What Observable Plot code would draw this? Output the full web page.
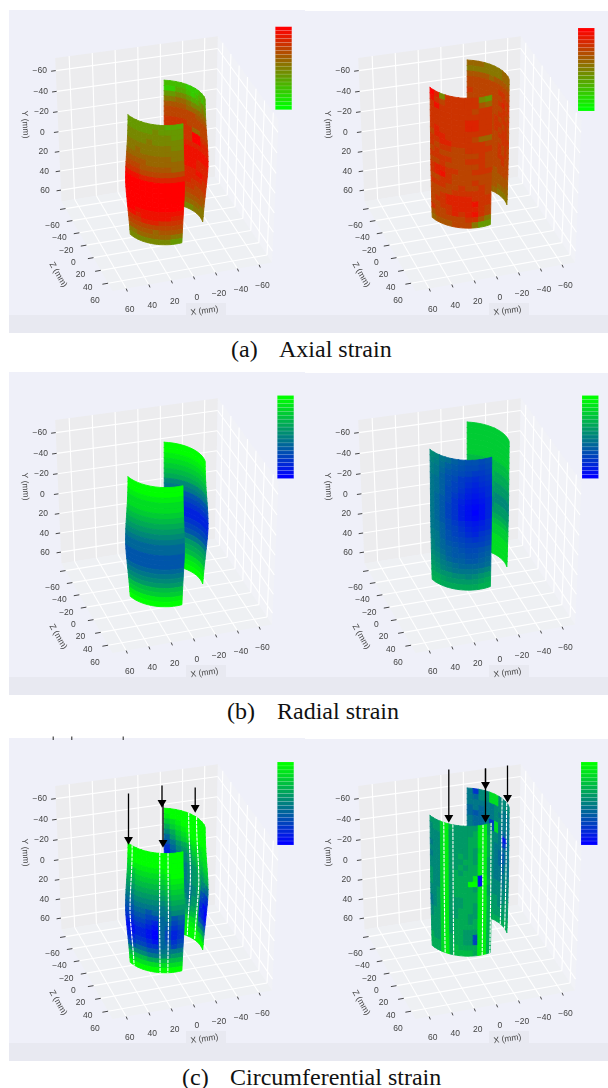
<!DOCTYPE html>
<html><head><meta charset="utf-8">
<script src="https://cdn.jsdelivr.net/npm/d3@7"></script>
<script src="https://cdn.jsdelivr.net/npm/@observablehq/plot@0.6"></script>
<style>
html,body{margin:0;padding:0;background:#fff;width:608px;height:1088px;overflow:hidden}
#page{position:relative;width:608px;height:1088px}
.panel{position:absolute}
.panel svg{display:block;filter:blur(0.4px)}
.cap{position:absolute;font-family:"Liberation Serif",serif;font-size:24px;color:#111;white-space:pre;line-height:26px}
</style></head><body><div id="page"></div>
<script>
// Axis ticks (mm)
const tickValues = [-60,-40,-20,0,20,40,60];
const tickLabels = ["−60","−40","−20","0","20","40","60"];
// Colour-bar levels, top of bar first for a green-to-high ramp
const barLevels = [0,0.7,1.5,2.2,3,3.7,4.5,5.2,6,6.7,7.5,8.2,9,9.7,10.5,11.2,12,12.7,13.5,14.2,15];

// Specimen shape (mm and degrees): radius per row edge, axial span, angular span
const radiusBefore = [35,35,35.2,35.4,35.7,36,36.4,36.8,37.2,37.6,37.9,38.1,38.3,38.3,38.1,37.8,37.4,37,36.6,36.2,35.8,35.4,35.1,34.8,34.5];
const radiusAfter  = [35.5,35.5,35.5,35.5,35.6,35.6,35.6,35.7,35.7,35.7,35.8,35.8,35.8,35.8,35.8,35.8,35.7,35.7,35.7,35.6,35.6,35.5,35.5,35.4,35.3];
const spanBeforeFront = {top:-58, bottom:62}, spanBeforeBack = {top:-60, bottom:64};
const spanAfterFront  = {top:-84, bottom:44}, spanAfterBack  = {top:-79, bottom:46};
const frontBefore = [75,-8], backBefore = [-160,-80];
const frontAfter  = [75,-16], backAfter  = [-160,-80];
const axisOffsetX = 2;

// Strain levels per cell, one digit per cell, read row by row from the top of each strip
const axialBeforeFront = ["6666666555","6666676666","7777777766","7777877777","8888888877","8898888888","9999999988","aaaa999999","bbbaaaaa99","cccbbbbbbb","eeeddddddd","ffffffffff","ffffffffff","ffffffffff","ffffffffff","ffffffffff","ffffffffff","ffeeeeeeee","eedeeeeedd","cccdddcccc","bbbbbbbbbb","aaaaa9aaaa","8899999988","7777777766"];
const axialBeforeBack = ["4444333445","3355434545","6677655676","8899877787","aaaa999999","bbbbbbaaaa","bbbbbbbbbb","ccccbbbbbb","ccccc99bbb","cccccffccc","cccccffddd","dddddddddd","eeeeeeeeee","eeeeeeeeee","eeeeeedddd","eeeeeedddd","ddddddeedd","ddddddddcc","dddddccccc","ccccccbbbb","bbbbbbbbaa","aaaaaaaaa9","9999999988","7777778888"];
const axialAfterFront = ["fd7ccccc76","ecbccccca9","cecccccbcc","cccccccccc","ccccccddcc","ccccccddcc","cdcccccccc","bddccccb99","ccddcccccb","cbccbbcccc","bcbbbbbbcb","ccccbbcccb","bbcbbbbbcb","cddccbbccc","cdecbbbbbb","bbccbbbcbb","cccbbcbbcb","bbbbcccccb","bbcddddccc","bccddddecc","bbccddddcb","cbbcdcdecb","abbbbbcca8","9aaabbb866"];
const axialAfterBack = ["9998888999","8888888999","aaaa9aaaaa","bbbbbbbbbb","bbbbbbccbb","cbbbbbbccc","bbbbbbcdbc","bbbbbbbccb","bcbbbbccbc","bcbbbcbccb","bcbbbccbcb","bcbbbcbccb","bbbbbbcccc","cbbbbbbccb","bbbbbbcbcb","bbbbbbcbcb","bbbbbbccbb","bbbbbbbcbb","bbbbbbbbbb","bbbbbabbba","aaaaaaaaaa","aaaaaaaaa9","999aaa9999","8888998888"];

const radialBeforeFront = ["0","0","1","2","2","3","4","5","6","7","8","9","9","a","a","a","9","8","7","6","4","3","1","0"];
const radialBeforeBack = ["0","0","1","2","3","4","5","7","8","a","b","c","d","d","c","b","a","8","6","5","4","2","1","0"];
// Finer reading of this strip: digits run 0..z
const radialAfterFront = ["ghjkmnoopo","hikmnoppqp","ijlnopqrrq","ijmoprstsr","jkmoqrtuts","jkmpqsuvut","jkmprtvwvt","jlnpsuwxwu","jlnqsvxyxu","jlnqsvxzxu","jlnqsvxyxu","jlnprtvwvt","jkmpqsuvut","jkmoqrtusr","ijmopqrsrq","ijlnopqqqp","hjlmnoppon","hikmnnoonm","ghjlmmnnml","fgijkllllk","efhijjjjih","deffgghgfe","ccdeeeeedc","bbccccccbb"];
const radialAfterBack = ["33","33","33","33","33","33","44","44","45","55","56","66","67","77","76","66","55","44","33","33","22","22","22","22"];

const circBeforeFront = ["0000000000","0000000000","1000000000","2111111000","3322222100","4433333211","5544444322","6655555433","7766666544","8877777655","9988888766","aa99a98877","bbaabb98a9","ccbbcd99ba","ddccde9acb","eeddef9bdc","eeddef9bdc","ddccde9acb","ccbbcc99ba","aa99aa8888","7777887766","4444554444","2222222222","0000000000"];
const circBeforeBack = ["0000000000","1000000000","3210000000","5321000000","7532100000","9643211111","a865422211","c976532222","da87643322","da97653433","ca98764544","ca98765655","ba98765778","ba98765899","ba98875abc","aa98876bcd","a987866cee","9876765ddf","9876654cde","8765543abc","6543222789","4321111456","2100000123","0000000000"];
const circAfterFront = ["66621566666116","76621666665116","77721666655115","77721666655115","87721666656215","77721665656115","87721666556116","77721665655116","77721656555116","67721655551e06","67721655500e05","67721655556116","77621655555116","77621666555115","87621666556115","87621665556115","76621665566115","76621655565115","66621655555115","66621655666115","6662155566b115","5662155566b115","55521545555115","55521544445115"];
const circAfterBack = ["8c77227777","8977227777","8888877888","9898878888","9a98877888","8998c28888","8998c28998","8888778ed8","8888778ca8","8888788988","8888789a88","8888789a88","8888789978","8888788978","8888788877","7777788877","7777777877","7777777777","7777777766","6666667766","6666667666","6666666666","5555566655","5555555555"];

// Gauge lines (degrees around the specimen) and arrows on the circumferential panels
const gaugeBeforeFront = [66,24,13], gaugeBeforeBack = [-124,-109];
const gaugeAfterFront = [50,37,-3,-15], gaugeAfterBack = [-105,-92];
const arrowsBefore = [[128,65,113],[161.5,57,76],[162.5,75,116],[194.7,59,81]];
const arrowsAfter  = [[145.3,41,91],[182,40,58],[182,40,91],[204,37,71]];
const stubsBefore = [52.7,71.3,122.7];

// Camera calibration: box corners (mm) against where they fall in a panel
const boxCorners = [[72,72,-72],[72,-72,-72],[-72,-72,-72],[-72,72,-72],[72,72,72],[-72,72,72],[-72,-72,72]];
const boxPixels  = [[61.7,200],[56,57.3],[216,33.3],[214,179.5],[110,291.7],[273.3,258.3],[278.3,122]];

const GREEN="#00ff00", RED="#ff0000", BLUE="#0000ff";

function fitCamera(){
  const rows=[],rhs=[];
  boxCorners.forEach((c,i)=>{
    const [X,Y,Z]=c.map(v=>v/72), u=boxPixels[i][0]/100, v=boxPixels[i][1]/100;
    rows.push([X,Y,Z,1,0,0,0,0,-u*X,-u*Y,-u*Z]);rhs.push(u);
    rows.push([0,0,0,0,X,Y,Z,1,-v*X,-v*Y,-v*Z]);rhs.push(v);
  });
  const n=11,A=[];
  for(let i=0;i<n;i++){A.push(new Array(n+1).fill(0));
    for(let j=0;j<n;j++)rows.forEach(r=>A[i][j]+=r[i]*r[j]);
    rows.forEach((r,k)=>A[i][n]+=r[i]*rhs[k]);}
  for(let i=0;i<n;i++){let m=i;for(let k=i+1;k<n;k++)if(Math.abs(A[k][i])>Math.abs(A[m][i]))m=k;
    [A[i],A[m]]=[A[m],A[i]];
    for(let k=0;k<n;k++){if(k===i)continue;const f=A[k][i]/A[i][i];for(let j=i;j<=n;j++)A[k][j]-=f*A[i][j];}}
  const p=A.map((r,i)=>r[n]/r[i]);
  return (X,Y,Z)=>{X/=72;Y/=72;Z/=72;const w=p[8]*X+p[9]*Y+p[10]*Z+1;
    return {x:100*(p[0]*X+p[1]*Y+p[2]*Z+p[3])/w,y:100*(p[4]*X+p[5]*Y+p[6]*Z+p[7])/w};};
}
const proj=fitCamera();

function poly(id,corners,extra){return corners.map(c=>({...proj(...c),id,...extra}));}
function link(a,b){const p=proj(...a),q=proj(...b);return {x1:p.x,y1:p.y,x2:q.x,y2:q.y};}

function stripCells(grid,theta,shape,radius,prefix,radix){
  const pts=[],rows=grid.length,dy=(shape.bottom-shape.top)/rows;
  const at=(t,r)=>{const a=t*Math.PI/180,R=radius[r];return [axisOffsetX+R*Math.sin(a),shape.top+r*dy,R*Math.cos(a)];};
  grid.forEach((row,r)=>{const cols=row.length,subs=Math.ceil(12/cols)+1;
    for(let c=0;c<cols;c++){
      const t0=theta[0]+(theta[1]-theta[0])*c/cols,t1=theta[0]+(theta[1]-theta[0])*(c+1)/cols,ring=[];
      for(let s=0;s<=subs;s++)ring.push(at(t0+(t1-t0)*s/subs,r));
      for(let s=subs;s>=0;s--)ring.push(at(t0+(t1-t0)*s/subs,r+1));
      ring.push(ring[0]);
      const level=parseInt(row[c],radix)*15/(radix-1);
      ring.forEach(q=>pts.push({...proj(...q),id:prefix+"-"+r+"-"+c,level}));
    }});
  return pts;
}
function gaugeLines(angles,shape,radius,prefix){
  const pts=[];
  angles.forEach((t,i)=>{const a=t*Math.PI/180;
    radius.forEach((R,r)=>pts.push({...proj(axisOffsetX+R*Math.sin(a),shape.top+r*(shape.bottom-shape.top)/(radius.length-1),R*Math.cos(a)),id:prefix+i}));});
  return pts;
}

function panelChart(o){
  const B=72, W=305, H=334;
  const walls=[
    poly("back",[[B,B,-B],[B,-B,-B],[-B,-B,-B],[-B,B,-B]],{}),
    poly("right",[[-B,B,-B],[-B,-B,-B],[-B,-B,B],[-B,B,B]],{}),
    poly("floor",[[B,B,-B],[-B,B,-B],[-B,B,B],[B,B,B]],{})
  ];
  const grid=[];
  tickValues.forEach(t=>{
    grid.push(link([t,B,-B],[t,-B,-B]),link([B,t,-B],[-B,t,-B]));
    grid.push(link([-B,t,-B],[-B,t,B]),link([-B,B,t],[-B,-B,t]));
    grid.push(link([t,B,-B],[t,B,B]),link([B,B,t],[-B,B,t]));
  });
  const ticks=[];
  tickValues.forEach(t=>{
    ticks.push(link([B,t,-B],[B+4,t,-B]));
    ticks.push(link([B,B,t],[B+5,B,t]));
    ticks.push(link([t,B,B],[t,B+1,B+3]));
  });
  const labels=(fn)=>tickValues.map((t,i)=>({...proj(...fn(t)),label:tickLabels[i]}));
  const text={text:"label",fontSize:8.5,fontFamily:"Liberation Sans, sans-serif",fill:"#444"};
  const bar=(o.reverseBar?barLevels.slice().reverse():barLevels).map((level,i,a)=>({level,y1:o.bar[1]+i*83/a.length,y2:o.bar[1]+(i+1)*83/a.length,x1:o.bar[0],x2:o.bar[0]+16.5}));

  const back=stripCells(o.back,o.backTheta,o.backSpan,o.radius,"b",16);
  const front=stripCells(o.front,o.frontTheta,o.frontSpan,o.radius,"f",o.frontRadix||16);
  const cell={x:"x",y:"y",z:"id",fill:"level",stroke:"level",strokeWidth:0.9};
  const dash={x:"x",y:"y",z:"id",stroke:"#fff",strokeWidth:1.1,strokeDasharray:"2.4,1.7"};
  const marks=[
    Plot.rect([{x1:o.left,x2:W,y1:o.top,y2:333}],{x1:"x1",x2:"x2",y1:"y1",y2:"y2",fill:"#eff0f9"}),
    Plot.rect([{x1:o.left,x2:W,y1:315,y2:333}],{x1:"x1",x2:"x2",y1:"y1",y2:"y2",fill:"#e8e9f1"}),
    Plot.rect([{x1:186,x2:226,y1:303,y2:315}],{x1:"x1",x2:"x2",y1:"y1",y2:"y2",fill:"#e8e9f1"}),
    Plot.line(walls[0],{x:"x",y:"y",z:"id",fill:"#ececee",stroke:"none"}),
    Plot.line(walls[1],{x:"x",y:"y",z:"id",fill:"#f1f2f7",stroke:"none"}),
    Plot.line(walls[2],{x:"x",y:"y",z:"id",fill:"#eef0f3",stroke:"none"}),
    Plot.link(grid,{x1:"x1",y1:"y1",x2:"x2",y2:"y2",stroke:"#fff",strokeWidth:1.1}),
    Plot.link(ticks,{x1:"x1",y1:"y1",x2:"x2",y2:"y2",stroke:"#333",strokeWidth:0.9}),
    Plot.text(labels(t=>[B,t,-B]),{x:"x",y:"y",dx:-16,...text}),
    Plot.text(labels(t=>[B,B,t]),{x:"x",y:"y",dx:-13,dy:17,...text}),
    Plot.text(labels(t=>[t,B,B]),{x:"x",y:"y",dx:3.5,dy:21,...text}),
    Plot.text([{x:25,y:124,label:"Y (mm)"}],{x:"x",y:"y",rotate:87,...text}),
    Plot.text([{x:58,y:274,label:"Z (mm)"}],{x:"x",y:"y",rotate:60,...text}),
    Plot.text([{x:204,y:310,label:"X (mm)"}],{x:"x",y:"y",rotate:-8,...text}),
    Plot.rect(bar,{x1:"x1",x2:"x2",y1:"y1",y2:"y2",fill:"level",stroke:"#ffffff",strokeOpacity:0.18,strokeWidth:0.6}),
    Plot.line(back,cell)
  ];
  if(o.gaugeBack)marks.push(Plot.line(gaugeLines(o.gaugeBack,o.backSpan,o.radius,"gb"),dash));
  marks.push(Plot.line(front,cell));
  if(o.gaugeFront)marks.push(Plot.line(gaugeLines(o.gaugeFront,o.frontSpan,o.radius,"gf"),dash));
  if(o.arrows){
    const shaft=o.arrows.map(([x,y1,y2])=>({x,y1,y2}));
    marks.push(Plot.link(shaft,{x1:"x",x2:"x",y1:"y1",y2:"y2",stroke:"#000",strokeWidth:1.3}));
    marks.push(Plot.dot(shaft,{x:"x",y:d=>d.y2-2,symbol:"triangle",rotate:180,r:3.3,fill:"#000",stroke:"none"}));
  }
  if(o.stubs)marks.push(Plot.link(o.stubs.map(x=>({x})),{x1:"x",x2:"x",y1:()=>8,y2:()=>11.5,stroke:"#222",strokeWidth:1}));
  return Plot.plot({
    width:W,height:H,marginTop:0,marginRight:0,marginBottom:0,marginLeft:0,
    style:{background:"transparent"},
    x:{domain:[0,W],range:[0,W],axis:null},
    y:{domain:[0,H],range:[0,H],axis:null},
    color:{type:"linear",domain:[0,15],range:[GREEN,o.high],interpolate:d3.interpolateRgb},
    marks
  });
}

const before={radius:radiusBefore,frontSpan:spanBeforeFront,backSpan:spanBeforeBack,frontTheta:frontBefore,backTheta:backBefore,left:9,top:10};
const after ={radius:radiusAfter,frontSpan:spanAfterFront,backSpan:spanAfterBack,frontTheta:frontAfter,backTheta:backAfter,left:0,top:11};
const panels=[
 {x:0,y:0,...before,high:RED,reverseBar:true,bar:[275.3,26.7],front:axialBeforeFront,back:axialBeforeBack},
 {x:303,y:0,...after,high:RED,reverseBar:true,bar:[275,28],front:axialAfterFront,back:axialAfterBack},
 {x:0,y:362,...before,high:BLUE,bar:[277.3,33.5],front:radialBeforeFront,back:radialBeforeBack},
 {x:303,y:362,...after,high:BLUE,bar:[279,33.5],front:radialAfterFront,frontRadix:36,back:radialAfterBack},
 {x:0,y:728,...before,high:BLUE,bar:[277.3,34],front:circBeforeFront,back:circBeforeBack,gaugeFront:gaugeBeforeFront,gaugeBack:gaugeBeforeBack,arrows:arrowsBefore,stubs:stubsBefore},
 {x:303,y:728,...after,high:BLUE,bar:[278,34],front:circAfterFront,back:circAfterBack,gaugeFront:gaugeAfterFront,gaugeBack:gaugeAfterBack,arrows:arrowsAfter}
];
const page=document.getElementById("page");
panels.forEach(o=>{
  const d=document.createElement("div");d.className="panel";d.style.left=o.x+"px";d.style.top=o.y+"px";
  d.appendChild(panelChart(o));page.appendChild(d);
});
[["(a)",231,336],["Axial strain",279,336],["(b)",227,698],["Radial strain",277,698],["(c)",182,1064],["Circumferential strain",230,1064]].forEach(([t,x,y])=>{
  const c=document.createElement("div");c.className="cap";c.textContent=t;c.style.left=x+"px";c.style.top=y+"px";page.appendChild(c);
});
</script></body></html>
